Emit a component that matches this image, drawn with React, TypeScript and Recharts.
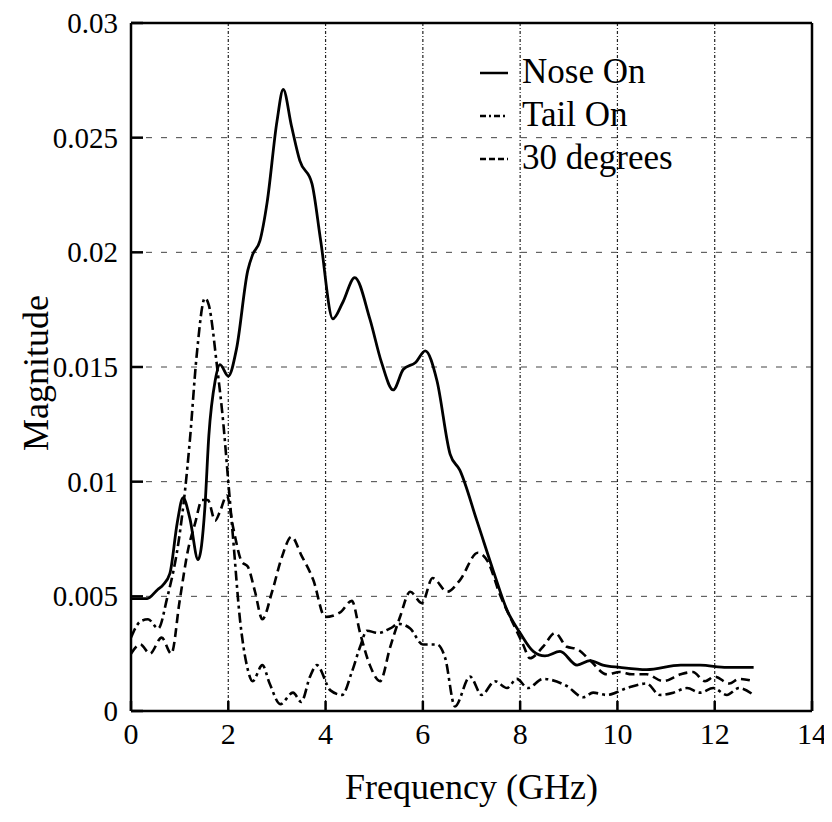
import React from 'react';
import { LineChart, Line, XAxis, YAxis, CartesianGrid, ReferenceLine, Legend } from 'recharts';

const noseOnFreq = [0, 0.33, 0.55, 0.66, 0.8, 0.95, 1.07, 1.21, 1.38, 1.52, 1.6, 1.73, 1.83, 2.0, 2.17, 2.4, 2.5, 2.65, 2.8, 3.0, 3.13, 3.3, 3.47, 3.72, 3.9, 4.15, 4.35, 4.6, 4.91, 5.15, 5.39, 5.6, 5.85, 6.05, 6.29, 6.56, 6.76, 7.11, 7.45, 7.73, 8.0, 8.27, 8.51, 8.82, 9.17, 9.44, 9.7, 10.05, 10.6, 11.3, 11.7, 12.25, 12.8];
const noseOnMag = [0.0049, 0.0049, 0.0053, 0.0055, 0.006, 0.0082, 0.0093, 0.0084, 0.0066, 0.0089, 0.012, 0.0144, 0.0151, 0.0146, 0.0158, 0.0192, 0.0199, 0.0205, 0.0222, 0.0257, 0.0271, 0.0255, 0.024, 0.023, 0.0205, 0.0171, 0.0178, 0.0189, 0.0171, 0.0152, 0.014, 0.0149, 0.0152, 0.0157, 0.0144, 0.0112, 0.0105, 0.0083, 0.0061, 0.0044, 0.0034, 0.0026, 0.0024, 0.0026, 0.002, 0.0022, 0.002, 0.0019, 0.0018, 0.002, 0.002, 0.0019, 0.0019];

const tailOnFreq = [0, 0.19, 0.35, 0.56, 0.74, 1.0, 1.11, 1.21, 1.35, 1.52, 1.6, 1.77, 1.9, 2.0, 2.1, 2.24, 2.38, 2.5, 2.7, 2.85, 3.07, 3.33, 3.5, 3.68, 3.82, 4.1, 4.34, 4.54, 4.71, 4.85, 5.08, 5.33, 5.5, 5.74, 6.0, 6.29, 6.46, 6.66, 6.97, 7.21, 7.48, 7.73, 7.93, 8.16, 8.47, 8.95, 9.3, 9.5, 9.78, 10.2, 10.6, 10.87, 11.15, 11.43, 11.7, 11.97, 12.25, 12.5, 12.8];
const tailOnMag = [0.0032, 0.0039, 0.004, 0.0036, 0.0049, 0.0077, 0.0096, 0.0118, 0.0155, 0.018, 0.0177, 0.015, 0.0125, 0.01, 0.0075, 0.004, 0.002, 0.0013, 0.002, 0.0012, 0.0003, 0.0008, 0.0004, 0.0015, 0.002, 0.0009, 0.0007, 0.0017, 0.0028, 0.0035, 0.0034, 0.0036, 0.0038, 0.0036, 0.0029, 0.0029, 0.0023, 0.0002, 0.0015, 0.0007, 0.0013, 0.001, 0.0014, 0.001, 0.0014, 0.0011, 0.0006, 0.0008, 0.0007, 0.001, 0.0012, 0.0007, 0.0008, 0.001, 0.0008, 0.001, 0.0007, 0.001, 0.0007];

const deg30Freq = [0, 0.19, 0.39, 0.63, 0.83, 1.0, 1.17, 1.32, 1.46, 1.58, 1.73, 1.83, 1.97, 2.1, 2.28, 2.4, 2.55, 2.7, 2.9, 3.1, 3.3, 3.5, 3.75, 3.99, 4.3, 4.54, 4.71, 4.91, 5.12, 5.33, 5.53, 5.74, 5.98, 6.2, 6.5, 6.76, 7.13, 7.34, 7.58, 7.86, 8.06, 8.2, 8.47, 8.72, 8.96, 9.17, 9.44, 9.78, 10.05, 10.3, 10.6, 10.94, 11.3, 11.55, 11.8, 12.0, 12.3, 12.5, 12.8];
const deg30Mag = [0.0025, 0.0029, 0.0025, 0.0032, 0.0025, 0.0048, 0.007, 0.0082, 0.0092, 0.0092, 0.0083, 0.0087, 0.0094, 0.008, 0.0065, 0.0063, 0.0052, 0.004, 0.0052, 0.0067, 0.0076, 0.0068, 0.0057, 0.0041, 0.0043, 0.0048, 0.0034, 0.002, 0.0013, 0.0028, 0.0041, 0.0052, 0.0047, 0.0058, 0.0052, 0.0057, 0.0069, 0.0065, 0.0051, 0.0038, 0.0029, 0.0023, 0.0028, 0.0034, 0.0028, 0.0027, 0.0022, 0.0016, 0.0017, 0.0016, 0.0016, 0.0013, 0.0016, 0.0017, 0.0013, 0.0015, 0.0012, 0.0014, 0.0013];

const xTicks = [0, 2, 4, 6, 8, 10, 12, 14];
const yTicks = [0, 0.005, 0.01, 0.015, 0.02, 0.025, 0.03];
const seriesNames = ['Nose On', 'Tail On', '30 degrees'];

const zip = (f: number[], m: number[]) => f.map((x, i) => ({ f: x, m: m[i] }));
const noseData = zip(noseOnFreq, noseOnMag);
const tailData = zip(tailOnFreq, tailOnMag);
const degData = zip(deg30Freq, deg30Mag);

const FONT = '"Liberation Serif", "Times New Roman", serif';
const TAIL_DASH = '10 4 3 4';
const DEG_DASH = '9 5';
const Y_GAP = 13;
const X_GAP = 12;

const YTick = (props: any) => {
  const { x, y, payload } = props;
  const ax = x + Y_GAP;
  return (
    <g>
      <line x1={ax} x2={ax + 12} y1={y} y2={y} stroke="#000" strokeWidth={2.5} />
      <text x={x} y={y} dy="0.35em" textAnchor="end" fontFamily={FONT} fontSize={29} fill="#000">
        {String(payload.value)}
      </text>
    </g>
  );
};

const XTick = (props: any) => {
  const { x, y, payload } = props;
  const ay = y - X_GAP;
  return (
    <g>
      <line x1={x} x2={x} y1={ay} y2={ay - 10} stroke="#000" strokeWidth={2.5} />
      <text x={x} y={y} dy="0.71em" textAnchor="middle" fontFamily={FONT} fontSize={30} fill="#000">
        {String(payload.value)}
      </text>
    </g>
  );
};

const LegendBox = () => (
  <svg width={230} height={150} style={{ display: 'block' }}>
    {[0, 1, 2].map((i) => {
      const ly = 33 + i * 43;
      const dash = i === 0 ? undefined : i === 1 ? '6 3 2 3' : '6 3';
      return (
        <g key={i}>
          <line x1={10} x2={38} y1={ly} y2={ly} stroke="#000" strokeWidth={2.5} strokeDasharray={dash} />
          <text x={52} y={ly + 10} fontFamily={FONT} fontSize={35} fill="#000">{seriesNames[i]}</text>
        </g>
      );
    })}
  </svg>
);

const MagLabel = (props: any) => {
  const vb = props.viewBox || { x: 43, y: 15, width: 80, height: 688 };
  const cx = vb.x - 15;
  const cy = vb.y + vb.height / 2 + 6;
  return (
    <text x={cx} y={cy} transform={`rotate(-90 ${cx} ${cy})`} textAnchor="middle" dominantBaseline="central" fontFamily={FONT} fontSize={36} fill="#000">
      Magnitude
    </text>
  );
};

export default function App() {
  return (
    <LineChart width={824} height={814} margin={{ top: 15, right: 20, bottom: 11, left: 43 }}>
      <CartesianGrid horizontal={false} stroke="#222" strokeDasharray="3 2 1 2" strokeWidth={1.2} />
      <CartesianGrid vertical={false} stroke="#444" strokeDasharray="6 9" strokeWidth={1} />
      <XAxis
        dataKey="f"
        type="number"
        domain={[0, 14]}
        ticks={xTicks}
        allowDataOverflow
        height={100}
        tickSize={0}
        tickMargin={X_GAP}
        tickLine={false}
        tick={<XTick />}
        axisLine={{ stroke: '#000', strokeWidth: 2.5 }}
        label={{ value: 'Frequency (GHz)', position: 'insideBottom', offset: 12, fontFamily: FONT, fontSize: 36, fill: '#000' }}
      />
      <YAxis
        type="number"
        domain={[0, 0.03]}
        ticks={yTicks}
        allowDataOverflow
        width={80}
        tickSize={0}
        tickMargin={Y_GAP}
        tickLine={false}
        tick={<YTick />}
        axisLine={{ stroke: '#000', strokeWidth: 2.5 }}
        label={{ content: MagLabel }}
      />
      <ReferenceLine y={0.03} stroke="#000" strokeWidth={2.5} />
      <ReferenceLine x={14} stroke="#000" strokeWidth={2.5} />
      <Line data={noseData} dataKey="m" name="Nose On" type="monotone" stroke="#000" strokeWidth={2.8} dot={false} isAnimationActive={false} />
      <Line data={tailData} dataKey="m" name="Tail On" type="monotone" stroke="#000" strokeWidth={2.6} strokeDasharray={TAIL_DASH} dot={false} isAnimationActive={false} />
      <Line data={degData} dataKey="m" name="30 degrees" type="monotone" stroke="#000" strokeWidth={2.6} strokeDasharray={DEG_DASH} dot={false} isAnimationActive={false} />
      <Legend
        layout="vertical"
        align="center"
        verticalAlign="middle"
        content={() => <LegendBox />}
        wrapperStyle={{ left: 462, top: 32, width: 230, height: 150 }}
      />
    </LineChart>
  );
}
